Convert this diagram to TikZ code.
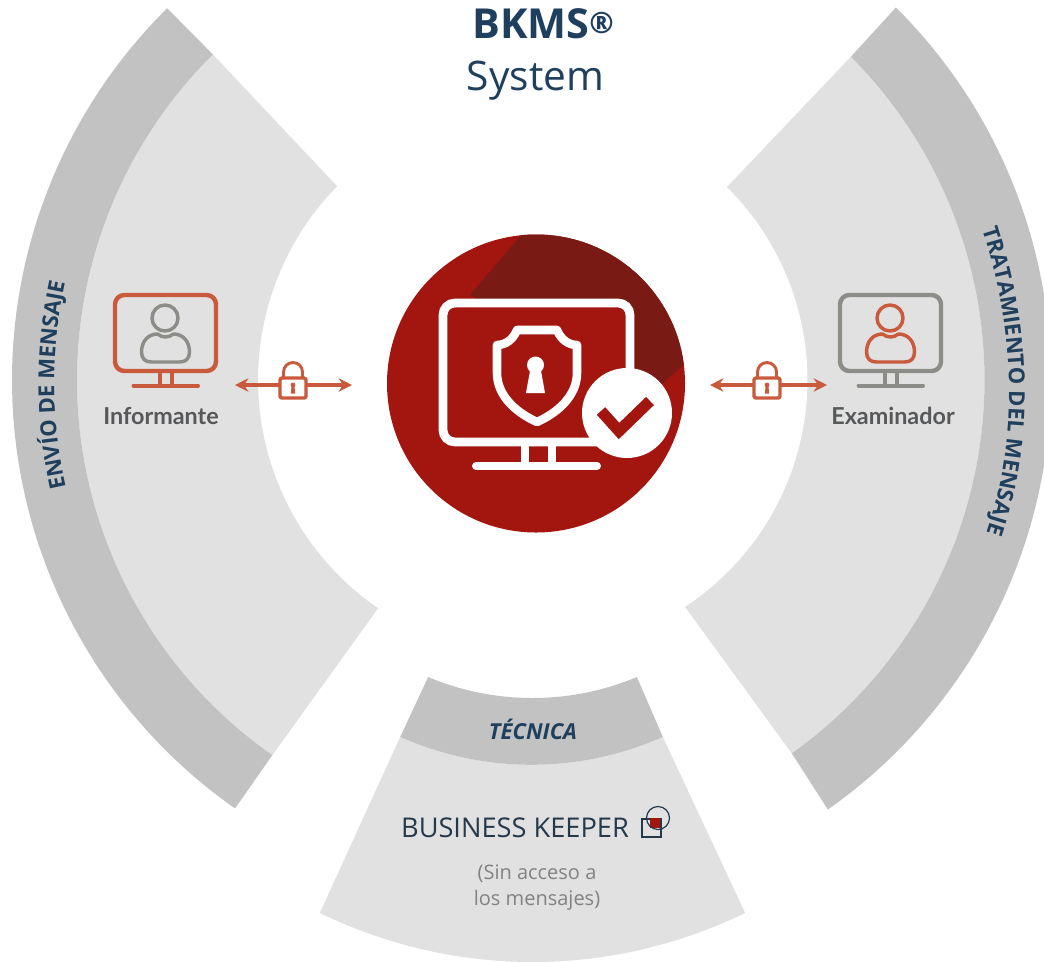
\documentclass[tikz,border=0pt]{standalone}
\usepackage{fontspec}
\setmainfont{Open Sans}
\newfontfamily\latofont{Lato}
\usetikzlibrary{decorations.text,arrows.meta}
\definecolor{lightsec}{HTML}{E1E1E1}
\definecolor{graysec}{HTML}{C2C2C2}
\definecolor{navytxt}{HTML}{1F3F5F}
\definecolor{navydark}{HTML}{25394B}
\definecolor{brickred}{HTML}{A3150F}
\definecolor{darkred}{HTML}{7A1A14}
\definecolor{orangeicon}{HTML}{C95A3C}
\definecolor{grayicon}{HTML}{8C8C88}
\definecolor{labelgray}{HTML}{57585A}
\definecolor{softgray}{HTML}{828282}
\newcommand{\ptfont}[1]{\fontsize{#1}{#1}\selectfont}
% band between two circular arcs (second arc runs back)
\newcommand{\arcband}[3]{\fill[#1] plot[smooth,samples=60,variable=\t,domain=#2] ({\cxa+\ra*cos(\t)},{\cya+\ra*sin(\t)}) -- plot[smooth,samples=60,variable=\t,domain=#3] ({\cxb+\rb*cos(\t)},{\cyb+\rb*sin(\t)}) -- cycle;}
\newcommand{\setarcs}[6]{\def\cxa{#1}\def\cya{#2}\def\ra{#3}\def\cxb{#4}\def\cyb{#5}\def\rb{#6}}
\newcommand{\screenicon}[3]{% centre x, frame colour, person colour
  \begin{scope}[shift={(#1,0)},line join=round]
    \draw[#2,line width=3.3pt,rounded corners=7] (-50.5,295) rectangle (50.5,371);
    \draw[#2,line width=2.6pt] (-5.5,372) -- (-5.5,384) (6.5,372) -- (6.5,384);
    \draw[#2,line width=3pt,line cap=round] (-32,385.5) -- (32.5,385.5);
    \draw[#3,line width=2.6pt] (-0.5,318) circle (13);
    \draw[#3,line width=2.6pt] (-8,334) .. controls (-18,334) and (-24,342) .. (-24,352) .. controls (-24,359) and (-20,362) .. (-14,362) -- (14,362) .. controls (20,362) and (24,359) .. (24,352) .. controls (24,342) and (18,334) .. (8,334) .. controls (3,338) and (-3,338) .. (-8,334) -- cycle;
  \end{scope}}
\newcommand{\lockicon}[1]{%
  \begin{scope}[shift={(#1,0)},line join=round]
    \draw[orangeicon,line width=2.2pt,fill=white] (-9.5,378) -- (-9.5,372) arc[start angle=180,end angle=360,radius=9.5] -- (9.5,378);
    \draw[orangeicon,line width=2.6pt,fill=white,rounded corners=1.5] (-13,378) rectangle (13,398);
    \fill[orangeicon] (0,385) circle (2.4) (-1.4,386) -- (1.4,386) -- (2.2,393.5) -- (-2.2,393.5) -- cycle;
  \end{scope}}
\begin{document}
\begin{tikzpicture}[x=0.75pt,y=-0.75pt]
\clip (0,0) rectangle (1044,961);
\fill[white] (0,0) rectangle (1044,961);
% left sector
\setarcs{535}{380}{458}{535}{380}{277}
\arcband{lightsec}{225.3:125}{124.5:224.4}
\setarcs{535}{380}{523}{535}{380}{458}
\arcband{graysec}{225.3:125}{125:225.3}
% right sector
\setarcs{526.5}{380}{458}{536}{380}{271.5}
\arcband{lightsec}{-44.9:54.6}{56.7:-45.3}
\setarcs{526}{380}{525}{526.5}{380}{458}
\arcband{graysec}{-45.2:54.9}{54.6:-44.9}
% bottom sector
\setarcs{531.5}{442}{322.8}{532.5}{477}{485}
\arcband{lightsec}{114:66}{64:116}
\setarcs{532.5}{427.5}{270.5}{531.5}{442}{322.8}
\arcband{graysec}{112.7:67.3}{66:114}
% curved labels
\path[decorate,decoration={text along path,text align={center},
  text={|\ptfont{16.5}\bfseries\color{navytxt}|ENVÍO DE MENSAJE}}]
  (67,492) .. controls (50,420) and (50,350) .. (66,278);
\path[decorate,decoration={text along path,text align={center},
  text={|\ptfont{16.5}\bfseries\color{navytxt}|TRATAMIENTO DEL MENSAJE}}]
  (980,222) .. controls (1016,330) and (1020,440) .. (984,540);
% title
\node[text=navytxt,font=\ptfont{31}\bfseries,anchor=base,inner sep=0pt] (title) at (543,38) {BKMS\raisebox{3.5pt}{\ptfont{22}®}};
\node[text=navytxt,font=\ptfont{30.5},anchor=base,inner sep=0pt] (subtitle) at (535.5,90) {System};
% centre disc
\fill[brickred] (536,383.5) circle (149);
\begin{scope}
  \clip (536,383.5) circle (149);
  \fill[darkred] (527,228) -- (470,295) -- (650,395) -- (700,350) -- (700,228) -- cycle;
\end{scope}
\draw[white,line width=6.6pt,fill=brickred,rounded corners=9] (443,303) rectangle (630,442);
\draw[white,line width=5.5pt] (525,445) -- (525,466) (552,445) -- (552,466);
\draw[white,line width=6pt,line cap=round] (476,466) -- (597,466);
% shield
\draw[white,line width=6.4pt,line join=round] (537,330) -- (517,330)
  .. controls (513,340) and (505,345) .. (497,345) -- (497,373)
  .. controls (497,395) and (515,412) .. (537,422)
  .. controls (559,412) and (577,395) .. (577,373) -- (577,345)
  .. controls (569,345) and (561,340) .. (557,330) -- cycle;
\fill[white] (535.5,365) circle (8.5);
\fill[white] (530.5,368) -- (540.5,368) -- (545,393) -- (526,393) -- cycle;
% check badge
\fill[white] (627,413) circle (45);
\draw[brickred,line width=8.5pt] (601,411) -- (619,431) -- (650,401);
% side icons
\screenicon{165.5}{orangeicon}{grayicon}
\screenicon{890.5}{grayicon}{orangeicon}
\coordinate (leftA) at (235,385);
\coordinate (leftB) at (352,385);
\coordinate (rightA) at (710,385);
\coordinate (rightB) at (827,385);
\draw[orangeicon,line width=2.6pt,{Stealth[length=10pt,width=10pt]}-{Stealth[length=10pt,width=10pt]}] (leftA) -- (leftB);
\draw[orangeicon,line width=2.6pt,{Stealth[length=10pt,width=10pt]}-{Stealth[length=10pt,width=10pt]}] (rightA) -- (rightB);
\lockicon{293}
\lockicon{767}
\node[text=labelgray,font=\latofont\ptfont{17.5}\bfseries,anchor=base] (inf) at (161,424) {Informante};
\node[text=labelgray,font=\latofont\ptfont{17.5}\bfseries,anchor=base] (exa) at (893,424) {Examinador};
% bottom texts
\node[text=navytxt,font=\ptfont{16.5}\bfseries\itshape,anchor=base] (tec) at (533,739) {TÉCNICA};
\node[text=navydark,font=\ptfont{20.4},anchor=base] (bk) at (515,837) {BUSINESS KEEPER};
\draw[navydark,line width=1.1pt] (642,819) rectangle (661,837);
\fill[brickred] (650,818) rectangle (660,828);
\draw[navydark,line width=.9pt] (658,818) circle (11.5);
\node[text=softgray,font=\ptfont{15},anchor=base] (n1) at (537,879) {(Sin acceso a};
\node[text=softgray,font=\ptfont{15},anchor=base] (n2) at (537,905) {los mensajes)};
\end{tikzpicture}
\end{document}
